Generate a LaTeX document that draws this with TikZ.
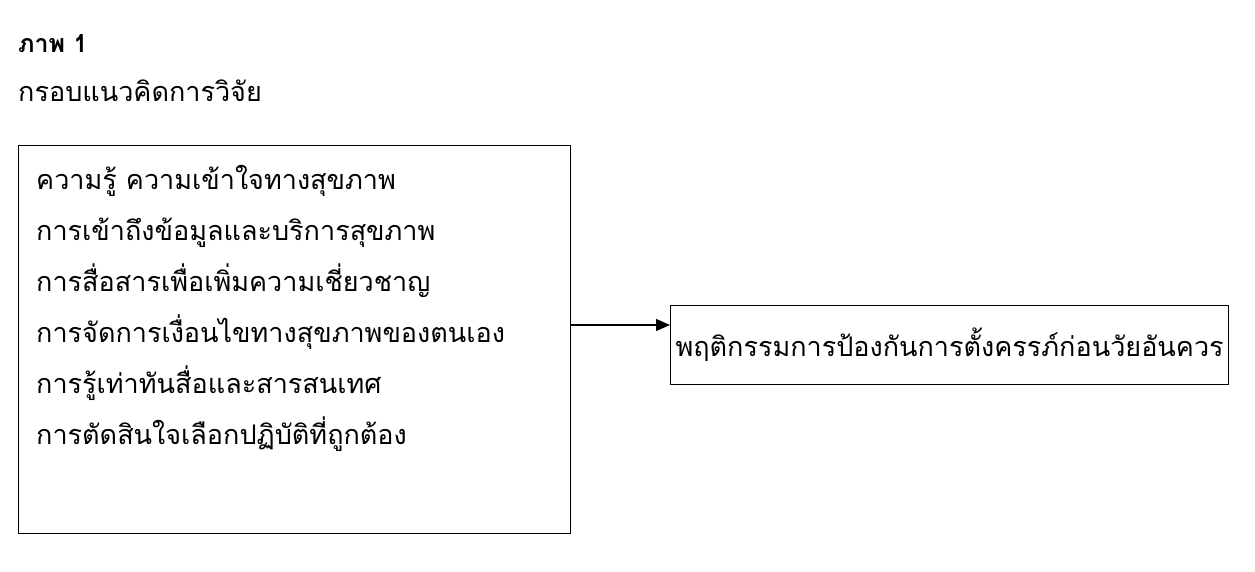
\documentclass[tikz,border=0pt]{standalone}
\usepackage{fontspec}
\newfontfamily\thaifont[Script=Thai]{Loma}
\usetikzlibrary{arrows.meta}
\begin{document}
\begin{tikzpicture}[x=1pt,y=-1pt,
  txt/.style={font=\thaifont\fontsize{27}{51}\selectfont, inner sep=0pt, anchor=west},
  box/.style={draw, line width=1.2pt}]
\useasboundingbox (0,0) rectangle (1255,571);
\node[txt, font=\thaifont\bfseries\fontsize{25}{30}\selectfont] (t1) at (18,44) {ภาพ 1};
\node[txt] (t2) at (18,91) {กรอบแนวคิดการวิจัย};
\node[box, minimum width=552pt, minimum height=388pt, anchor=north west] (L) at (18,145) {};
\node[txt, align=left, anchor=north west] (Lt) at (36,165) {ความรู้ ความเข้าใจทางสุขภาพ\\การเข้าถึงข้อมูลและบริการสุขภาพ\\การสื่อสารเพื่อเพิ่มความเชี่ยวชาญ\\การจัดการเงื่อนไขทางสุขภาพของตนเอง\\การรู้เท่าทันสื่อและสารสนเทศ\\การตัดสินใจเลือกปฏิบัติที่ถูกต้อง};
\node[box, minimum width=558pt, minimum height=79pt, anchor=north west] (R) at (670,305) {};
\node[txt, anchor=center] (Rt) at (R.center) {พฤติกรรมการป้องกันการตั้งครรภ์ก่อนวัยอันควร};
\coordinate (a0) at (570,325);
\draw[line width=1.2pt, -{Triangle[length=14pt,width=12pt]}] (a0) -- (a0 -| R.west);
\end{tikzpicture}
\end{document}
